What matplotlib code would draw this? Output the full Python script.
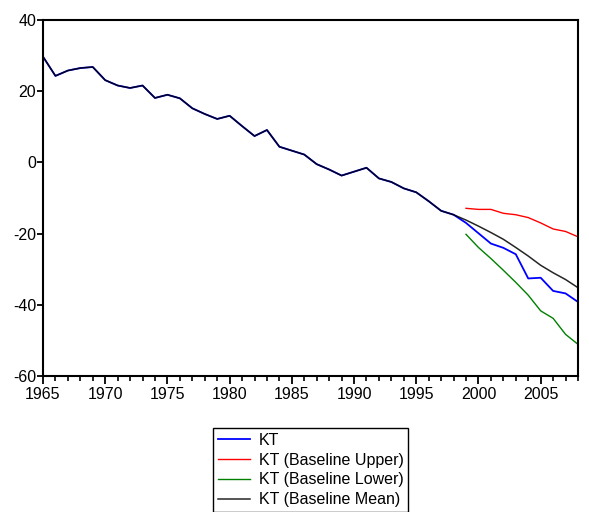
import numpy as np
import matplotlib.pyplot as plt
from matplotlib.ticker import MultipleLocator

plt.rcParams['font.family'] = ['Liberation Sans', 'DejaVu Sans']
plt.rcParams['axes.unicode_minus'] = False

# observed index, 1965-1998
hist_years = np.arange(1965, 1999)
kt_hist = [29.7, 24.3, 25.8, 26.5, 26.8, 23.1, 21.6, 20.9, 21.6, 18.1,
           19.0, 18.0, 15.2, 13.6, 12.2, 13.1, 10.2, 7.4, 9.1, 4.4,
           3.3, 2.2, -0.5, -2.0, -3.7, -2.6, -1.5, -4.5, -5.5, -7.3,
           -8.4, -10.9, -13.6, -14.7]

# forecast horizon, 1999-2008
fc_years = np.arange(1999, 2009)
kt_fc = [-17.0, -19.9, -22.8, -24.0, -25.8, -32.6, -32.4, -36.1, -36.8, -39.2]
upper = [-12.9, -13.2, -13.2, -14.3, -14.7, -15.5, -17.0, -18.7, -19.4, -20.9]
lower = [-20.2, -23.9, -27.0, -30.3, -33.7, -37.3, -41.7, -43.8, -48.3, -51.1]
mean_fc = [-16.2, -17.9, -19.7, -21.6, -23.9, -26.3, -28.9, -31.0, -32.9, -35.2]

years = np.concatenate([hist_years, fc_years])
kt = kt_hist + kt_fc
kt_mean = kt_hist + mean_fc

fig = plt.figure(figsize=(5.89, 5.12), dpi=100)
ax = fig.add_axes([43 / 589, 1 - 376 / 512, 535 / 589, 356 / 512])

ax.plot(years, kt, color='#0000ff', lw=1.3, label='KT')
ax.plot(fc_years, upper, color='#ff0000', lw=1.0, label='KT (Baseline Upper)')
ax.plot(fc_years, lower, color='#008000', lw=1.0, label='KT (Baseline Lower)')
ax.plot(years, kt_mean, color='black', lw=1.1, alpha=0.85, label='KT (Baseline Mean)')

ax.set_xlim(1965, 2008)
ax.set_ylim(-60, 40)
ax.xaxis.set_major_locator(MultipleLocator(5))
ax.xaxis.set_minor_locator(MultipleLocator(1))
ax.yaxis.set_major_locator(MultipleLocator(20))
ax.tick_params(axis='x', which='major', length=6, width=1.3, labelsize=11.5, pad=2)
ax.tick_params(axis='x', which='minor', length=3.5, width=1.2)
ax.tick_params(axis='y', which='major', length=4, width=1.3, labelsize=11.5, pad=1)
for sp in ax.spines.values():
    sp.set_linewidth(1.5)

fig.legend(loc='upper left', bbox_to_anchor=(213 / 589, 1 - 428 / 512),
           bbox_transform=fig.transFigure, fontsize=11.5, frameon=True,
           fancybox=False, edgecolor='black', framealpha=1, borderaxespad=0,
           handlelength=2.0, handletextpad=0.55, labelspacing=0.3,
           borderpad=0.3)

fig.savefig('out.png', dpi=100)
